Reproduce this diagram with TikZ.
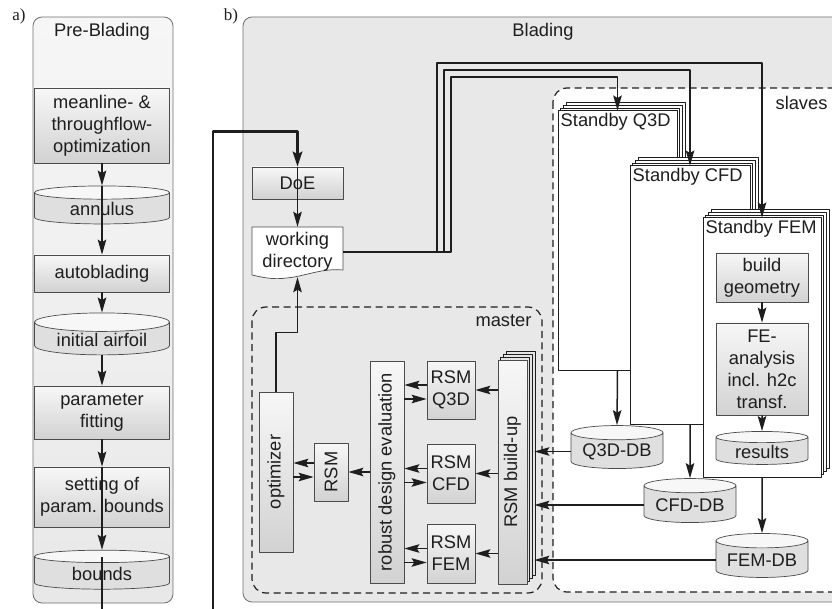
\documentclass[tikz,border=0pt]{standalone}
\usepackage{fontspec}
\setmainfont{Liberation Sans}
\newfontfamily\tagfont{Liberation Serif}
\usepackage{graphicx}
\usepackage{tikz}
\usetikzlibrary{arrows.meta,shapes.geometric,shadows,calc}
\definecolor{ink}{HTML}{1E1E1E}
\definecolor{rim}{HTML}{707070}
\definecolor{paneAtop}{HTML}{F6F6F6}
\definecolor{paneAbot}{HTML}{E8E8E8}
\definecolor{paneB}{HTML}{E8E8E8}
\definecolor{boxtop}{HTML}{F7F7F7}
\definecolor{boxbot}{HTML}{D2D2D2}
\tikzset{fig/.style={line join=round,>={Stealth[length=15pt,width=8.5pt,inset=2.5pt]}},
  pane/.style={draw=rim,line width=0.8pt,rounded corners=9pt},
  zone/.style={draw=ink,line width=1.2pt,dash pattern=on 7pt off 4.5pt,rounded corners=14pt},
  blk/.style={draw=ink!80,line width=0.7pt,top color=boxtop,bottom color=boxbot,inner sep=2pt,align=center},
  db/.style={cylinder,shape border rotate=90,aspect=0.2,draw=ink!80,line width=0.7pt,
    cylinder uses custom fill,cylinder body fill=boxbot!70,cylinder end fill=boxtop,inner sep=1pt},
  layers/.style={copy shadow={shadow xshift=8.1pt,shadow yshift=8.1pt,fill=#1,draw=ink,line width=0.9pt},
    copy shadow={shadow xshift=5.4pt,shadow yshift=5.4pt,fill=#1,draw=ink,line width=0.9pt},
    copy shadow={shadow xshift=2.7pt,shadow yshift=2.7pt,fill=#1,draw=ink,line width=0.9pt}},
  standby/.style={layers=white,draw=ink,line width=1pt,fill=white,minimum width=119pt,minimum height=259pt},
  arr/.style={->,line width=1.5pt,draw=ink},
  bus/.style={->,line width=1.6pt,draw=ink},
  trunk/.style={line width=2.7pt,draw=ink}}

\begin{document}
\begin{tikzpicture}[fig,x=1pt,y=-1pt,font=\fontsize{18.3}{22}\selectfont,text=ink]
 \path[use as bounding box] (0,0) rectangle (832,609);
 \clip (0,0) rectangle (832,609);
 % a) pre-blading
 \node[font=\tagfont\fontsize{17}{20}\selectfont] (tagA) at (19,16) {a)};
 \draw[pane,top color=paneAtop,bottom color=paneAbot] (33,17) rectangle (173,603);
 \node (preT) at (102,32) {Pre-Blading};
 \node[blk,minimum width=135pt,minimum height=75pt] (mean) at (102,125.5) {meanline- \&\\throughflow-\\optimization};
 \node[db,minimum width=135pt,minimum height=38pt] (ann) at (102,209) {annulus};
 \node[blk,minimum width=135pt,minimum height=37pt] (auto) at (102,273.5) {autoblading};
 \node[db,minimum width=135pt,minimum height=39pt] (air) at (102,339.5) {initial airfoil};
 \node[blk,minimum width=135pt,minimum height=53pt] (fit) at (102,412.5) {parameter\\fitting};
 \node[blk,minimum width=135pt,minimum height=60pt] (set) at (102,497) {setting of\\param. bounds};
 \node[db,minimum width=135pt,minimum height=39pt] (bnd) at (102,573.5) {bounds};
 \draw[arr] (mean.south) -- (ann.north);
 \draw[arr] (ann.north) -- (auto.north);
 \draw[arr] (auto.south) -- (air.north);
 \draw[arr] (air.south) -- (fit.north);
 \draw[arr] (fit.south) -- (set.north);
 \draw[arr] (set.north) -- (bnd.north);
 \coordinate (outA) at (102,612);
 \draw[trunk] ([yshift=-7pt]bnd.north) -- (outA);
 % b) blading
 \node[font=\tagfont\fontsize{17}{20}\selectfont] (tagB) at (231,16) {b)};
 \draw[pane,fill=paneB] (243,17) rectangle (860,602);
 \node (bladT) at (543,32) {Blading};
 \node[blk,minimum width=91pt,minimum height=32pt] (doe) at (297.5,183) {DoE};
 \draw[fill=white,draw=ink!80,line width=0.7pt] (252,227) -- (343,227) -- (343,270)
   .. controls (322,268) and (306,276) .. (287,278) .. controls (272,280) and (261,277) .. (252,275) -- cycle;
 \node[minimum width=91pt,minimum height=50pt,inner sep=1pt,align=center] (wd) at (297.5,252) {working\\directory};
 \coordinate (outB) at (213,612);
 \draw[trunk,-{Stealth[length=15pt,width=9.5pt,inset=2.5pt]}] (outB) |- ($(doe.north)+(0,-35)$) -- (doe.north);
 \draw[arr] (doe.north) -- (wd.north);
 % slaves
 \draw[zone,fill=white] (553,88) rectangle (850,592);
 \node[anchor=east] (slvT) at (831,103) {slaves};
 \node[standby,label={[anchor=north west,inner sep=3pt]north west:Standby Q3D}] (q3d) at (617.5,240.5) {};
 \node[standby,minimum width=120pt,minimum height=258pt,label={[anchor=north west,inner sep=3pt]north west:Standby CFD}] (cfd) at (690,295) {};
 \node[standby,minimum width=118pt,label={[anchor=north west,inner sep=3pt]north west:Standby FEM}] (fem) at (762,347.5) {};
 \node[blk,minimum width=92pt,minimum height=49pt] (geo) at (762,277.5) {build\\geometry};
 \node[blk,minimum width=92pt,minimum height=92pt] (fea) at (762,369) {FE-\\analysis\\incl. h2c\\transf.};
 \node[db,minimum width=92pt,minimum height=33pt] (res) at (762,451.5) {results};
 \draw[arr] (geo.south) -- (fea.north);
 \draw[arr] (fea.south) -- (res.north);
 \node[db,minimum width=92pt,minimum height=43pt] (q3ddb) at (617,451.5) {Q3D-DB};
 \node[db,minimum width=92pt,minimum height=44pt] (cfddb) at (690,505) {CFD-DB};
 \node[db,minimum width=92pt,minimum height=44pt] (femdb) at (762,560) {FEM-DB};
 \draw[arr] (q3d.south) -- (q3ddb.north);
 \draw[arr] (cfd.south) -- (cfddb.north);
 \draw[arr] (fem.south) -- (femdb.north);
 \draw[bus] (wd.east) -| (437,63) -| (fem.north);
 \draw[bus] (wd.east) -| (444,70) -| (cfd.north);
 \draw[bus] (wd.east) -| (451,77) -| (q3d.north);
 % master
 \draw[zone] (252,307) rectangle (542,593);
 \node[anchor=east] (mstT) at (535,321) {master};
 \node[blk,minimum width=34pt,minimum height=160pt] (opt) at (276,472) {\rotatebox{90}{optimizer}};
 \node[blk,minimum width=34pt,minimum height=58pt] (rsm) at (331,472) {\rotatebox{90}{RSM}};
 \node[blk,minimum width=34pt,minimum height=222pt] (rde) at (387,472) {\rotatebox{90}{robust design evaluation}};
 \node[blk,minimum width=48pt,minimum height=58pt] (rq) at (451,390) {RSM\\Q3D};
 \node[blk,minimum width=48pt,minimum height=59pt] (rc) at (451,473.5) {RSM\\CFD};
 \node[blk,minimum width=48pt,minimum height=59pt] (rf) at (451,553.5) {RSM\\FEM};
 \node[blk,layers=boxtop!50!boxbot,minimum width=29pt,minimum height=224pt] (rsmb) at (512.5,472) {\rotatebox{90}{RSM build-up}};
 \foreach \r in {rq,rc,rf}{
  \draw[arr] (rsmb.west |- \r.east) -- (\r.east);
  \draw[arr] ($(\r.west)+(0,-5)$) -- ($(rde.east |- \r.west)+(0,-5)$);
  \draw[arr] ($(rde.east |- \r.west)+(0,9)$) -- ($(\r.west)+(0,9)$);
 }
 \draw[arr] (rde.west) -- (rsm.east);
 \draw[arr] ($(rsm.west)+(0,-9)$) -- ($(opt.east)+(0,-9)$);
 \draw[arr] ($(opt.east)+(0,5)$) -- ($(rsm.west)+(0,5)$);
 \draw[arr] (opt.north) -- ++(0,-59) -| (wd.south);
 \foreach \d in {q3ddb,cfddb,femdb}
  \draw[arr] (\d.west) -- ($(rsmb.east |- \d.west)+(7,0)$);
\end{tikzpicture}
\end{document}
